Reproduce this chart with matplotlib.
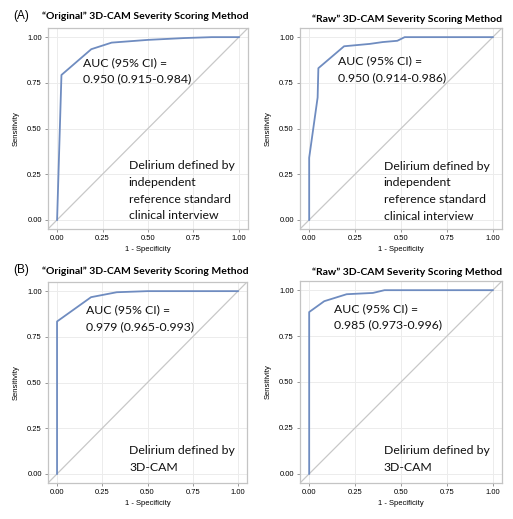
import numpy as np
import matplotlib
matplotlib.use("Agg")
import matplotlib.pyplot as plt

# ROC curves (1 - specificity, sensitivity)
fpr_a_orig = [0.0, 0.024, 0.188, 0.30, 0.50, 0.70, 0.85, 1.0]
tpr_a_orig = [0.0, 0.793, 0.934, 0.970, 0.985, 0.995, 1.0, 1.0]

fpr_a_raw = [0.0, 0.0, 0.046, 0.05, 0.19, 0.33, 0.40, 0.48, 0.52, 1.0]
tpr_a_raw = [0.0, 0.34, 0.67, 0.83, 0.95, 0.963, 0.973, 0.98, 1.0, 1.0]

fpr_b_orig = [0.0, 0.0, 0.188, 0.33, 0.50, 1.0]
tpr_b_orig = [0.0, 0.834, 0.967, 0.994, 1.0, 1.0]

fpr_b_raw = [0.0, 0.0, 0.082, 0.204, 0.347, 0.41, 1.0]
tpr_b_raw = [0.0, 0.881, 0.94, 0.978, 0.985, 1.0, 1.0]

titles = ["\u201cOriginal\u201d 3D-CAM Severity Scoring Method",
          "\u201cRaw\u201d 3D-CAM Severity Scoring Method"]
auc_text = ["AUC (95% CI) =\n0.950 (0.915-0.984)",
            "AUC (95% CI) =\n0.950 (0.914-0.986)",
            "AUC (95% CI) =\n0.979 (0.965-0.993)",
            "AUC (95% CI) =\n0.985 (0.973-0.996)"]
ref_text = ["Delirium defined by\nindependent\nreference standard\nclinical interview",
            "Delirium defined by\n3D-CAM"]
ticks = [0.0, 0.25, 0.5, 0.75, 1.0]
tick_labels = ["0.00", "0.25", "0.50", "0.75", "1.00"]

fig = plt.figure(figsize=(5.13, 5.19), dpi=100)

W, H = 513, 519
def px_axes(l, t, r, b):
    return fig.add_axes([l / W, 1 - b / H, (r - l) / W, (b - t) / H])

# (axes, x, y, auc label, reference label, auc first-line pos, ref first-line pos)
panels = [
    (px_axes(48, 28, 248, 229), fpr_a_orig, tpr_a_orig, auc_text[0], ref_text[0], (0.143, 0.857), (0.393, 0.29)),
    (px_axes(300, 28, 502, 229), fpr_a_raw, tpr_a_raw, auc_text[1], ref_text[0], (0.155, 0.863), (0.405, 0.288)),
    (px_axes(48, 282, 247, 483), fpr_b_orig, tpr_b_orig, auc_text[2], ref_text[1], (0.162, 0.893), (0.40, 0.123)),
    (px_axes(300, 281, 502, 483), fpr_b_raw, tpr_b_raw, auc_text[3], ref_text[1], (0.133, 0.896), (0.405, 0.122)),
]

frame_col = "#c4c4c4"
off = 0.035  # first line center -> top of text box
for ax, fx, fy, auc, ref, auc_pos, ref_pos in panels:
    ax.set_xlim(-0.05, 1.05)
    ax.set_ylim(-0.05, 1.05)
    ax.plot([-0.05, 1.05], [-0.05, 1.05], color="#c8c8c8", lw=0.9, zorder=2)
    ax.plot(fx, fy, color="#6f8cc0", lw=1.3, zorder=3)
    ax.set_xticks(ticks)
    ax.set_yticks(ticks)
    ax.set_xticklabels(tick_labels, fontsize=5.5, family="Liberation Sans")
    ax.set_yticklabels(tick_labels, fontsize=5.5, family="Liberation Sans")
    ax.tick_params(length=2.5, width=0.6, color="#888888", pad=2)
    ax.grid(True, color="#ececec", lw=0.7)
    ax.set_axisbelow(True)
    for s in ax.spines.values():
        s.set_color(frame_col)
        s.set_linewidth(0.9)
    ax.set_xlabel("1 - Specificity", fontsize=5.5, family="Liberation Sans", labelpad=3)
    ax.set_ylabel("Sensitivity", fontsize=5.5, family="Liberation Sans", labelpad=5)
    ax.text(auc_pos[0], auc_pos[1] + off, auc, fontsize=8.8, family="Lato", va="top",
            ha="left", linespacing=1.62, color="#111111")
    ax.text(ref_pos[0], ref_pos[1] + off, ref, fontsize=8.8, family="Lato", va="top",
            ha="left", linespacing=1.62, color="#111111")

tkw = dict(fontsize=7.5, family="Lato", weight="bold", ha="center", va="center")
fig.text(145 / W, 1 - 16 / H, titles[0], **tkw)
fig.text(407 / W, 1 - 19 / H, titles[1], **tkw)
fig.text(145 / W, 1 - 271 / H, titles[0], **tkw)
fig.text(407 / W, 1 - 272 / H, titles[1], **tkw)
fig.text(13 / W, 1 - 16 / H, "(A)", fontsize=8.5, family="Liberation Sans", ha="left", va="center")
fig.text(13 / W, 1 - 270 / H, "(B)", fontsize=8.5, family="Liberation Sans", ha="left", va="center")

fig.savefig("out.png", dpi=100)
